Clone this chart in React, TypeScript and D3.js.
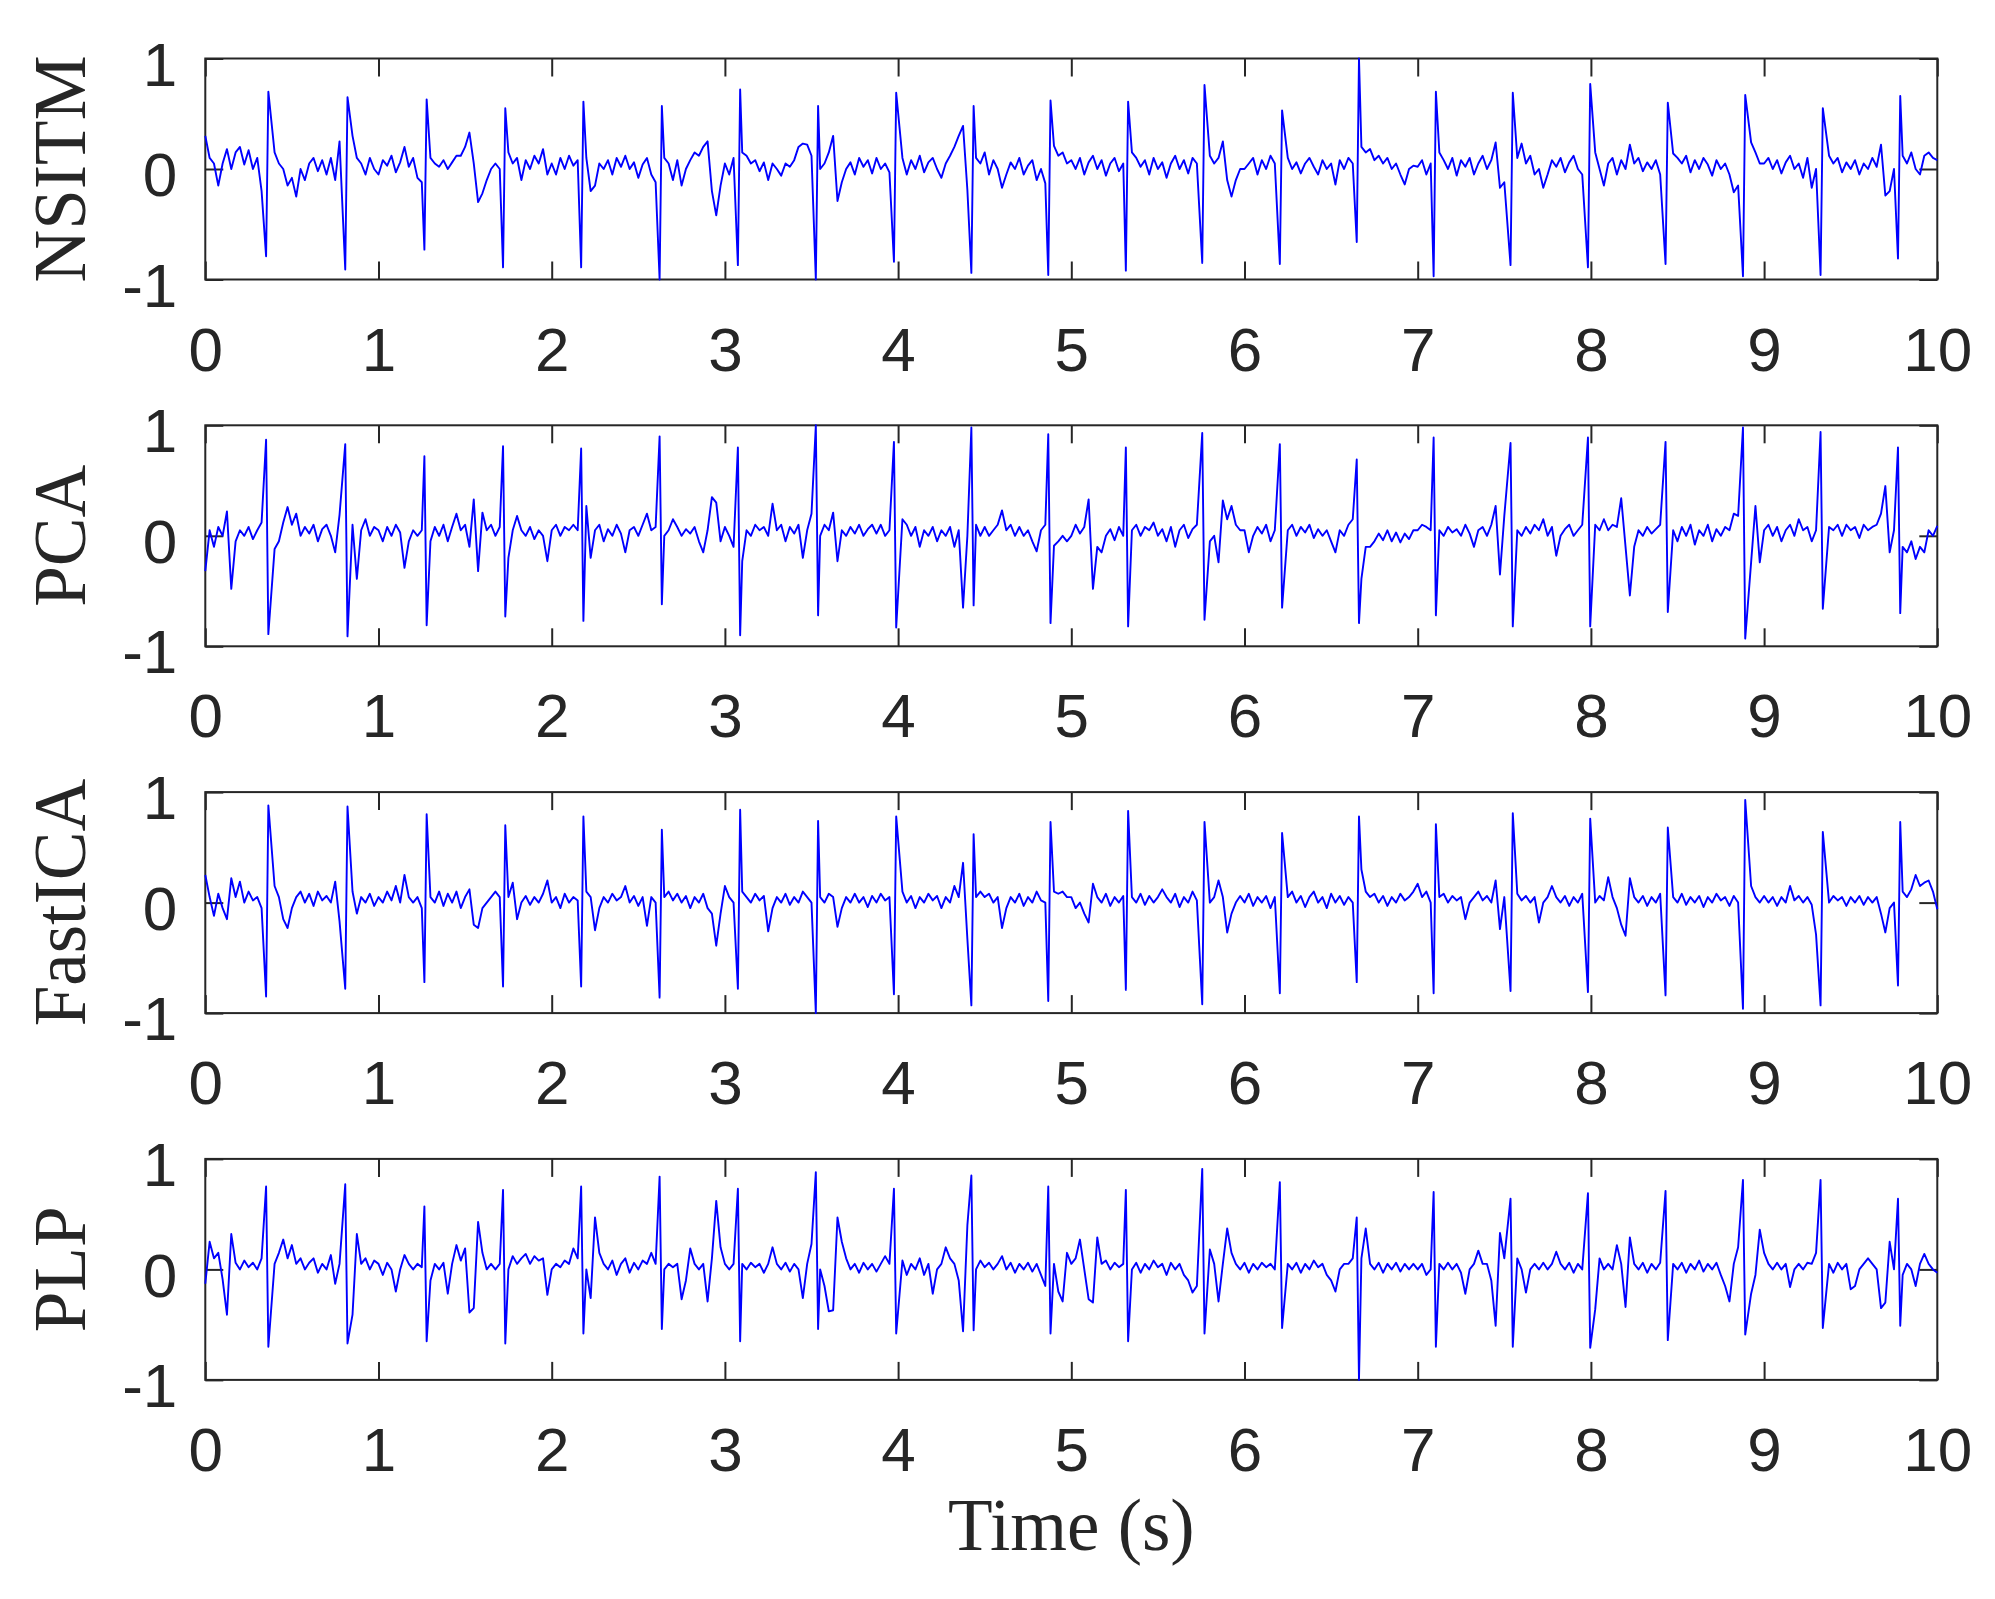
import { useLayoutEffect, useRef } from 'react'
import * as d3 from 'd3'

// spacing of the hand-read baseline samples, seconds
const STEP = 0.025

// R-peak times shared by the four recovered signals (s)
const beatTimes = [
  0.351, 0.808, 1.265, 1.719, 2.17, 2.623, 3.075, 3.525, 3.976, 4.423, 4.867,
  5.315, 5.756, 6.204, 6.648, 7.092, 7.536, 7.983, 8.431, 8.878, 9.326, 9.773
]
const xTickValues = [0, 1, 2, 3, 4, 5, 6, 7, 8, 9, 10]
const yTickValues = [-1, 0, 1]

// NSITM
const nsitmBase = [
  0.30, 0.10, 0.05, -0.15, 0.05, 0.18, 0.00, 0.15, 0.20, 0.04, 0.17, 0.00, 0.10, -0.20, 0.00, 0.20, 0.15, 0.05, 0.00, -0.15,
  -0.08, -0.25, 0.00, -0.10, 0.05, 0.10, -0.02, 0.08, -0.05, 0.10, -0.10, 0.25, 0.00, 0.00, 0.30, 0.10, 0.05, -0.05, 0.10, 0.00,
  -0.05, 0.08, 0.03, 0.12, -0.03, 0.06, 0.20, 0.02, 0.10, -0.08, -0.12, 0.00, 0.10, 0.05, 0.02, 0.08, 0.00, 0.06, 0.12, 0.12,
  0.20, 0.33, 0.05, -0.30, -0.22, -0.10, 0.00, 0.05, 0.00, 0.00, 0.15, 0.05, 0.10, -0.10, 0.08, 0.00, 0.12, 0.05, 0.18, -0.05,
  0.05, -0.05, 0.10, 0.00, 0.12, 0.03, 0.08, 0.00, 0.10, -0.20, -0.15, 0.05, 0.00, 0.08, -0.05, 0.10, 0.02, 0.12, 0.00, 0.06,
  -0.08, 0.04, 0.10, -0.05, -0.12, 0.00, 0.10, 0.05, -0.10, 0.08, -0.15, 0.00, 0.08, 0.15, 0.12, 0.20, 0.25, -0.20, -0.42, -0.15,
  0.05, -0.05, 0.10, 0.00, 0.15, 0.12, 0.05, 0.08, -0.02, 0.06, -0.10, 0.05, 0.00, -0.06, 0.05, 0.02, 0.08, 0.20, 0.23, 0.22,
  0.12, 0.00, 0.00, 0.05, 0.15, 0.30, -0.29, -0.12, 0.00, 0.06, -0.05, 0.10, 0.02, 0.08, -0.04, 0.10, 0.00, 0.05, -0.03, 0.00,
  0.05, 0.10, -0.05, 0.08, 0.00, 0.12, -0.03, 0.06, 0.10, 0.00, -0.08, 0.05, 0.12, 0.20, 0.30, 0.39, -0.19, 0.00, 0.10, 0.05,
  0.15, -0.05, 0.08, 0.00, -0.17, -0.05, 0.06, 0.00, 0.10, -0.05, 0.03, 0.08, -0.10, 0.00, -0.13, 0.00, 0.21, 0.12, 0.15, 0.05,
  0.08, 0.00, 0.10, -0.05, 0.06, 0.12, 0.00, 0.08, -0.06, 0.05, 0.10, -0.02, 0.05, 0.00, 0.15, 0.10, 0.02, 0.08, -0.05, 0.10,
  0.00, 0.06, -0.08, 0.05, 0.12, 0.00, 0.08, -0.04, 0.10, 0.05, 0.00, 0.00, 0.12, 0.05, 0.10, 0.25, -0.10, -0.25, -0.10, 0.00,
  0.00, 0.05, 0.10, -0.05, 0.08, 0.00, 0.12, 0.05, 0.00, 0.00, 0.10, 0.00, 0.06, -0.04, 0.05, 0.10, 0.02, -0.05, 0.08, 0.00,
  0.05, -0.14, 0.08, 0.00, 0.10, 0.05, 0.00, 0.20, 0.15, 0.18, 0.08, 0.12, 0.05, 0.10, 0.00, 0.05, -0.05, -0.14, 0.00, 0.03,
  0.02, 0.08, -0.05, 0.05, 0.00, 0.15, 0.08, 0.00, 0.10, -0.06, 0.08, 0.02, 0.10, -0.05, 0.05, 0.12, 0.00, 0.08, 0.24, -0.17,
  -0.12, 0.00, 0.00, 0.10, 0.23, 0.05, 0.12, -0.05, 0.00, -0.17, -0.05, 0.08, 0.02, 0.10, -0.03, 0.06, 0.12, 0.00, -0.05, 0.00,
  0.00, 0.15, 0.00, -0.15, 0.05, 0.10, -0.05, 0.08, 0.00, 0.22, 0.05, 0.10, -0.02, 0.06, 0.00, 0.08, -0.05, 0.00, 0.00, 0.14,
  0.10, 0.05, 0.12, -0.03, 0.08, 0.00, 0.10, 0.04, -0.06, 0.08, 0.00, 0.05, -0.05, -0.21, -0.15, 0.00, 0.00, 0.24, 0.15, 0.05,
  0.05, 0.10, 0.00, 0.08, -0.04, 0.06, 0.12, 0.00, 0.05, -0.08, 0.10, -0.17, 0.00, 0.00, 0.15, 0.12, 0.05, 0.10, -0.03, 0.06,
  0.00, 0.08, -0.05, 0.05, 0.00, 0.10, 0.02, 0.22, -0.24, -0.20, 0.00, 0.00, 0.12, 0.05, 0.15, 0.00, -0.05, 0.12, 0.15, 0.10,
  0.08
]
const nsitmR = [0.70, 0.65, 0.63, 0.55, 0.61, 0.57, 0.72, 0.57, 0.69, 0.57, 0.62, 0.61, 0.76, 0.53, 1.0, 0.70, 0.69, 0.77, 0.60, 0.67, 0.55, 0.66]
const nsitmS = [-0.79, -0.91, -0.73, -0.89, -0.89, -1.0, -0.87, -1.0, -0.84, -0.94, -0.96, -0.92, -0.85, -0.86, -0.66, -0.97, -0.87, -0.89, -0.86, -0.97, -0.96, -0.81]

// PCA
const pcaBase = [
  -0.32, 0.05, -0.10, 0.08, 0.00, 0.22, -0.48, -0.05, 0.05, 0.00, 0.08, -0.03, 0.05, 0.12, 0.00, 0.00, -0.12, -0.05, 0.12, 0.26,
  0.10, 0.20, 0.00, 0.08, 0.02, 0.10, -0.05, 0.06, 0.10, 0.00, -0.15, 0.19, 0.00, 0.00, 0.10, -0.39, 0.05, 0.15, 0.00, 0.08,
  0.05, -0.05, 0.08, 0.00, 0.10, 0.03, -0.29, -0.05, 0.05, 0.00, 0.05, 0.00, -0.05, 0.08, 0.00, 0.10, -0.05, 0.08, 0.20, 0.05,
  0.10, -0.10, 0.33, -0.32, 0.21, 0.05, 0.10, 0.00, 0.08, 0.00, -0.20, 0.05, 0.18, 0.05, 0.00, 0.08, -0.03, 0.05, 0.00, -0.23,
  0.05, 0.10, 0.00, 0.08, 0.05, 0.10, 0.05, 0.00, 0.27, -0.20, 0.05, 0.10, -0.05, 0.06, 0.00, 0.10, 0.02, -0.15, 0.05, 0.08,
  0.00, 0.10, 0.20, 0.05, 0.08, 0.00, 0.00, 0.05, 0.15, 0.08, 0.00, 0.06, 0.02, 0.08, -0.05, -0.15, 0.05, 0.35, 0.30, -0.05,
  0.08, 0.00, -0.10, 0.00, -0.23, 0.05, 0.00, 0.10, 0.05, 0.08, 0.00, 0.29, 0.05, 0.10, -0.05, 0.08, 0.02, 0.10, -0.20, 0.05,
  0.20, 0.00, 0.00, 0.10, 0.05, 0.21, -0.23, 0.05, 0.00, 0.08, 0.02, 0.10, 0.00, 0.06, 0.10, 0.02, 0.10, 0.00, 0.05, 0.00,
  0.10, 0.15, 0.10, 0.00, 0.08, -0.10, 0.05, 0.00, 0.08, -0.05, 0.05, 0.00, 0.08, -0.10, 0.05, -0.65, 0.00, 0.00, 0.10, 0.00,
  0.08, 0.00, 0.05, 0.10, 0.23, 0.05, 0.10, 0.00, 0.08, 0.00, 0.05, -0.05, -0.14, 0.05, 0.10, 0.00, -0.09, -0.05, 0.00, -0.05,
  0.00, 0.10, 0.02, 0.08, 0.33, -0.48, -0.10, -0.15, 0.00, 0.06, -0.04, 0.08, 0.00, 0.00, 0.05, 0.10, 0.00, 0.08, 0.05, 0.12,
  0.00, 0.06, -0.05, 0.08, -0.10, 0.05, 0.10, -0.02, 0.06, 0.10, 0.05, 0.00, -0.05, 0.00, -0.24, 0.32, 0.15, 0.27, 0.10, 0.05,
  0.05, -0.15, 0.00, 0.08, 0.02, 0.10, -0.05, 0.05, 0.00, 0.00, 0.05, 0.10, 0.00, 0.08, 0.03, 0.10, -0.02, 0.06, 0.00, 0.05,
  -0.05, -0.15, 0.05, 0.00, 0.10, 0.15, 0.00, -0.39, -0.10, -0.10, -0.05, 0.02, -0.04, 0.05, -0.05, 0.03, -0.06, 0.02, -0.03, 0.05,
  0.05, 0.10, 0.08, 0.05, 0.00, 0.05, 0.00, 0.08, 0.03, 0.06, 0.00, 0.10, 0.02, -0.10, 0.05, 0.08, 0.00, 0.10, 0.27, -0.35,
  0.18, 0.15, 0.00, 0.05, 0.00, 0.08, 0.02, 0.10, 0.05, 0.15, 0.00, 0.08, -0.18, 0.00, 0.06, 0.10, 0.00, 0.05, 0.10, 0.00,
  0.00, 0.10, 0.05, 0.15, 0.05, 0.10, 0.08, 0.34, -0.10, -0.54, -0.10, 0.05, 0.00, 0.08, 0.02, 0.06, 0.10, 0.00, 0.00, 0.05,
  -0.05, 0.08, 0.00, 0.10, -0.08, 0.05, 0.00, 0.10, -0.05, 0.06, 0.00, 0.08, 0.05, 0.20, 0.18, 0.00, 0.00, -0.24, 0.27, -0.24,
  0.05, 0.10, 0.00, 0.08, -0.05, 0.05, 0.10, 0.00, 0.15, 0.05, 0.08, -0.05, 0.05, 0.00, 0.00, 0.08, 0.05, 0.10, 0.00, 0.10,
  0.05, 0.08, -0.02, 0.10, 0.05, 0.08, 0.10, 0.20, 0.45, -0.15, 0.05, 0.00, -0.10, -0.15, -0.05, -0.21, -0.10, -0.15, 0.05, 0.00,
  0.09
]
const pcaR = [0.87, 0.83, 0.72, 0.81, 0.79, 0.90, 0.80, 1.0, 0.85, 0.98, 0.92, 0.80, 0.93, 0.83, 0.69, 0.89, 0.84, 0.89, 0.85, 0.98, 0.94, 0.80]
const pcaS = [-0.89, -0.91, -0.81, -0.73, -0.77, -0.62, -0.90, -0.72, -0.83, -0.63, -0.79, -0.82, -0.76, -0.65, -0.79, -0.72, -0.82, -0.82, -0.69, -0.93, -0.66, -0.70]

// FastICA
const icaBase = [
  0.25, 0.05, -0.12, 0.08, -0.05, -0.15, 0.22, 0.05, 0.19, 0.00, 0.10, 0.02, 0.05, -0.05, 0.00, 0.00, 0.15, 0.05, -0.15, -0.23,
  -0.05, 0.05, 0.10, 0.00, 0.08, -0.03, 0.10, 0.02, 0.06, 0.00, 0.19, -0.17, 0.00, 0.00, 0.10, -0.10, 0.05, 0.00, 0.08, -0.03,
  0.05, 0.00, 0.10, 0.02, 0.15, 0.00, 0.25, 0.05, 0.00, 0.05, -0.05, 0.00, 0.05, 0.00, 0.10, -0.03, 0.08, 0.00, 0.10, -0.05,
  0.05, 0.12, -0.20, -0.23, -0.05, 0.00, 0.05, 0.10, 0.05, 0.00, 0.05, 0.18, -0.15, 0.00, 0.06, -0.02, 0.05, 0.00, 0.08, 0.20,
  0.00, 0.05, -0.05, 0.08, 0.00, 0.05, 0.02, 0.00, 0.10, 0.05, -0.25, -0.05, 0.05, 0.00, 0.08, 0.02, 0.05, 0.15, 0.00, 0.06,
  -0.03, 0.05, -0.21, 0.05, 0.00, 0.00, 0.05, 0.10, 0.02, 0.08, 0.00, 0.06, -0.05, 0.05, 0.00, 0.08, -0.05, -0.10, -0.39, -0.10,
  0.15, 0.05, 0.00, 0.00, 0.10, 0.05, 0.00, 0.08, 0.02, 0.06, -0.26, -0.05, 0.05, 0.00, 0.08, -0.02, 0.05, 0.00, 0.10, 0.05,
  0.00, 0.00, 0.05, 0.00, 0.08, 0.05, -0.22, -0.05, 0.05, 0.00, 0.08, 0.00, 0.05, -0.04, 0.06, 0.00, 0.08, 0.02, 0.05, 0.00,
  0.05, 0.10, 0.00, 0.06, -0.05, 0.05, 0.00, 0.08, 0.02, 0.06, -0.05, 0.05, 0.00, 0.15, 0.05, 0.36, -0.33, 0.00, 0.05, 0.10,
  0.05, 0.08, 0.00, 0.05, -0.23, -0.05, 0.05, 0.00, 0.08, -0.03, 0.05, 0.00, 0.10, 0.02, 0.00, 0.00, 0.10, 0.08, 0.10, 0.05,
  0.05, -0.05, 0.00, -0.10, -0.18, 0.17, 0.05, 0.00, 0.08, -0.03, 0.05, 0.00, 0.06, 0.00, 0.05, 0.00, 0.08, -0.02, 0.06, 0.00,
  0.05, 0.12, 0.05, 0.00, 0.08, -0.04, 0.05, 0.00, 0.10, 0.02, 0.05, 0.00, 0.00, 0.05, 0.20, 0.05, -0.27, -0.10, 0.00, 0.06,
  0.00, 0.08, -0.03, 0.05, 0.00, 0.06, -0.05, 0.05, 0.00, 0.00, 0.05, 0.10, 0.00, 0.06, -0.04, 0.05, 0.10, 0.00, 0.05, -0.05,
  0.08, 0.00, 0.06, -0.02, 0.05, 0.00, 0.00, 0.30, 0.10, 0.05, 0.08, 0.00, 0.06, -0.03, 0.05, 0.00, 0.08, 0.02, 0.05, 0.10,
  0.17, 0.05, 0.10, 0.00, 0.00, 0.05, 0.08, 0.00, 0.06, 0.02, 0.05, -0.15, 0.00, 0.05, 0.10, 0.02, 0.06, 0.00, 0.20, -0.24,
  0.05, 0.00, 0.00, 0.08, 0.02, 0.06, 0.00, 0.05, -0.18, 0.00, 0.05, 0.15, 0.05, 0.00, 0.06, -0.03, 0.05, 0.00, 0.08, 0.00,
  0.05, 0.00, 0.06, 0.02, 0.23, 0.05, -0.05, -0.20, -0.30, 0.22, 0.05, 0.00, 0.06, -0.03, 0.05, 0.00, 0.08, 0.00, 0.00, 0.05,
  0.00, 0.08, -0.02, 0.05, 0.00, 0.06, -0.04, 0.05, 0.00, 0.08, 0.02, 0.05, -0.03, 0.06, 0.00, 0.00, 0.00, 0.15, 0.05, 0.00,
  0.06, 0.00, 0.05, -0.03, 0.05, 0.00, 0.15, 0.02, 0.06, 0.00, 0.05, -0.02, -0.29, 0.00, 0.05, 0.00, 0.06, 0.02, 0.05, -0.03,
  0.05, 0.00, 0.06, -0.02, 0.05, 0.00, 0.05, -0.10, -0.27, -0.05, 0.00, 0.00, 0.10, 0.05, 0.12, 0.25, 0.15, 0.18, 0.20, 0.10,
  -0.06
]
const icaR = [0.88, 0.87, 0.80, 0.70, 0.78, 0.66, 0.84, 0.74, 0.78, 0.62, 0.73, 0.83, 0.73, 0.63, 0.78, 0.71, 0.81, 0.76, 0.68, 0.93, 0.64, 0.73]
const icaS = [-0.85, -0.78, -0.72, -0.76, -0.76, -0.86, -0.78, -1.0, -0.83, -0.93, -0.89, -0.79, -0.92, -0.82, -0.72, -0.82, -0.80, -0.81, -0.84, -0.96, -0.93, -0.75]

// PLP
const plpBase = [
  -0.13, 0.25, 0.10, 0.15, -0.09, -0.41, 0.32, 0.06, 0.00, 0.08, 0.02, 0.06, 0.00, 0.10, 0.00, 0.00, 0.05, 0.15, 0.27, 0.10,
  0.22, 0.05, 0.10, 0.00, 0.06, 0.10, -0.03, 0.05, 0.00, 0.13, -0.13, 0.05, 0.00, 0.00, -0.41, 0.32, 0.05, 0.10, 0.00, 0.08,
  0.05, -0.05, 0.06, 0.00, -0.20, 0.00, 0.13, 0.05, 0.00, 0.05, 0.02, 0.00, -0.10, 0.05, 0.00, 0.06, -0.22, 0.05, 0.22, 0.08,
  0.19, -0.39, -0.35, 0.43, 0.15, 0.00, 0.05, 0.00, 0.05, 0.00, 0.00, 0.12, 0.05, 0.10, 0.14, 0.05, 0.12, 0.08, 0.10, -0.23,
  0.00, 0.05, 0.02, 0.08, 0.05, 0.19, 0.10, 0.00, 0.00, -0.26, 0.47, 0.15, 0.05, 0.00, 0.08, -0.05, 0.05, 0.10, -0.03, 0.06,
  0.00, 0.08, 0.05, 0.15, 0.05, 0.00, 0.00, 0.05, 0.02, 0.05, -0.27, -0.10, 0.19, 0.05, 0.00, 0.05, -0.29, 0.10, 0.62, 0.20,
  0.05, 0.00, 0.05, 0.00, 0.05, 0.00, 0.06, 0.02, 0.05, -0.03, 0.05, 0.20, 0.05, 0.00, 0.06, -0.02, 0.05, 0.00, -0.26, 0.05,
  0.23, 0.00, 0.00, -0.15, -0.38, -0.37, 0.47, 0.25, 0.10, 0.00, 0.05, -0.03, 0.06, 0.00, 0.05, -0.02, 0.05, 0.12, 0.05, 0.00,
  0.00, 0.08, -0.05, 0.05, 0.00, 0.10, -0.05, 0.05, -0.22, 0.00, 0.05, 0.20, 0.10, 0.05, -0.10, -0.56, 0.40, 0.00, 0.00, 0.08,
  0.02, 0.06, 0.00, 0.05, 0.12, 0.00, 0.06, -0.03, 0.05, 0.00, 0.06, -0.02, 0.05, -0.05, -0.15, 0.00, 0.05, -0.20, -0.29, 0.15,
  0.05, 0.10, 0.27, 0.00, -0.27, -0.30, 0.29, 0.05, 0.08, 0.00, 0.06, 0.02, 0.05, 0.00, 0.00, 0.06, -0.03, 0.05, 0.00, 0.08,
  0.02, 0.05, -0.05, 0.06, 0.00, 0.05, -0.05, -0.10, -0.21, -0.15, 0.00, 0.00, 0.18, 0.05, -0.29, 0.05, 0.37, 0.15, 0.05, 0.00,
  0.06, -0.03, 0.05, 0.00, 0.06, 0.02, 0.05, 0.00, 0.00, 0.00, 0.05, 0.00, 0.06, -0.03, 0.05, 0.00, 0.08, 0.02, 0.05, -0.05,
  -0.10, -0.20, 0.00, 0.05, 0.05, 0.10, 0.00, 0.10, 0.37, 0.05, 0.00, 0.06, -0.03, 0.05, 0.00, 0.06, -0.02, 0.05, 0.00, 0.05,
  0.00, 0.05, -0.05, 0.00, 0.00, 0.05, 0.00, 0.06, 0.00, 0.05, -0.03, -0.22, 0.00, 0.05, 0.17, 0.05, 0.05, -0.10, -0.51, 0.33,
  0.10, 0.05, 0.00, 0.10, 0.00, -0.21, 0.00, 0.05, 0.00, 0.06, 0.00, 0.05, 0.16, 0.05, 0.00, 0.06, -0.03, 0.05, 0.00, 0.00,
  0.00, -0.36, 0.10, 0.00, 0.05, 0.00, 0.22, 0.05, -0.34, 0.29, 0.05, 0.00, 0.06, -0.03, 0.05, 0.00, 0.06, 0.00, 0.00, 0.05,
  0.00, 0.06, -0.03, 0.05, 0.00, 0.08, -0.02, 0.05, 0.00, 0.06, -0.05, -0.15, -0.29, 0.05, 0.20, 0.00, 0.00, -0.22, -0.05, 0.36,
  0.15, 0.05, 0.00, 0.06, 0.00, 0.05, -0.16, 0.00, 0.05, 0.00, 0.06, 0.05, 0.15, 0.00, 0.00, 0.05, -0.03, 0.06, 0.00, 0.05,
  -0.18, -0.15, 0.00, 0.05, 0.10, 0.05, 0.00, -0.35, -0.30, 0.25, 0.00, 0.00, -0.05, 0.05, 0.00, -0.15, 0.05, 0.14, 0.05, 0.00,
  -0.03
]
const plpR = [0.75, 0.77, 0.57, 0.72, 0.75, 0.84, 0.73, 0.88, 0.73, 0.85, 0.75, 0.72, 0.91, 0.79, 0.47, 0.70, 0.64, 0.69, 0.71, 0.81, 0.81, 0.64]
const plpS = [-0.70, -0.67, -0.65, -0.67, -0.58, -0.54, -0.65, -0.54, -0.58, -0.55, -0.58, -0.65, -0.58, -0.53, -1.0, -0.70, -0.70, -0.71, -0.64, -0.59, -0.53, -0.51]

const panels = [
  { label: 'NSITM', base: nsitmBase, r: nsitmR, s: nsitmS, troughFirst: true },
  { label: 'PCA', base: pcaBase, r: pcaR, s: pcaS, troughFirst: false },
  { label: 'FastICA', base: icaBase, r: icaR, s: icaS, troughFirst: true },
  { label: 'PLP', base: plpBase, r: plpR, s: plpS, troughFirst: false }
]

type Pt = [number, number]

// merge baseline samples with the QRS spikes of each beat
const toPoints = (p: (typeof panels)[number]): Pt[] => {
  const pts: Pt[] = []
  p.base.forEach((v, i) => {
    const t = i * STEP
    if (beatTimes.some((b) => t > b - 0.012 && t < b + 0.025)) return
    pts.push([t, v])
  })
  beatTimes.forEach((b, k) => {
    const first = p.troughFirst ? p.s[k] : p.r[k]
    const second = p.troughFirst ? p.r[k] : p.s[k]
    pts.push([b, first], [b + 0.013, second])
  })
  return pts.sort((a, c) => a[0] - c[0])
}

const useD3 = (renderChartFn: (svg: any) => void, dependencies: any[]) => {
  const ref = useRef<SVGSVGElement>(null)
  useLayoutEffect(() => {
    const svg = d3.select(ref.current)
    svg.selectAll('*').remove()
    renderChartFn(svg)
  }, dependencies)
  return ref
}

const W = 1995
const H = 1599
const LEFT = 205.3
const RIGHT = 1937.3
const TOP0 = 58.5
const ROW = 366.8
const PH = 221
const INK = '#262626'
const SANS = '"Liberation Sans", Arial, Helvetica, sans-serif'
const SERIF = '"Liberation Serif", "Times New Roman", Times, serif'

// MATLAB prints a plain hyphen for negative tick labels
const plainLabel = (d: any) => String(d)

const App = () => {
  const ref = useD3((svg) => {
    const x = d3.scaleLinear().domain([0, 10]).range([LEFT, RIGHT])

    panels.forEach((p, i) => {
      const top = TOP0 + i * ROW
      const y = d3.scaleLinear().domain([-1, 1]).range([top + PH, top])
      const g = svg.append('g')

      g.append('g')
        .attr('transform', `translate(0,${top + PH})`)
        .call(d3.axisBottom(x).tickValues(xTickValues).tickSizeInner(-18).tickSizeOuter(0).tickPadding(47).tickFormat(plainLabel))
      g.append('g')
        .attr('transform', `translate(0,${top})`)
        .call(d3.axisTop(x).tickValues(xTickValues).tickSizeInner(-18).tickSizeOuter(0).tickFormat(() => ''))
      g.append('g')
        .attr('class', 'yleft')
        .attr('transform', `translate(${LEFT},0)`)
        .call(d3.axisLeft(y).tickValues(yTickValues).tickSizeInner(-18).tickSizeOuter(0).tickPadding(28).tickFormat(plainLabel))
      g.append('g')
        .attr('transform', `translate(${RIGHT},0)`)
        .call(d3.axisRight(y).tickValues(yTickValues).tickSizeInner(-18).tickSizeOuter(0).tickFormat(() => ''))

      g.selectAll('.domain').remove()
      g.selectAll('.tick line').attr('stroke', INK).attr('stroke-width', 2)
      g.selectAll('g').attr('font-size', 62).attr('font-family', SANS)
      g.selectAll('.tick text').attr('fill', INK)
      // the left tick labels sit a little lower than d3's default
      g.selectAll('.yleft .tick text').attr('dy', '0.43em')

      g.append('rect')
        .attr('x', LEFT)
        .attr('y', top)
        .attr('width', RIGHT - LEFT)
        .attr('height', PH)
        .attr('fill', 'none')
        .attr('stroke', INK)
        .attr('stroke-width', 2)

      g.append('path')
        .datum(toPoints(p))
        .attr('fill', 'none')
        .attr('stroke', '#0000ff')
        .attr('stroke-width', 1.9)
        .attr('stroke-linejoin', 'round')
        .attr('d', d3.line<Pt>().x((d) => x(d[0])).y((d) => y(d[1])))

      svg.append('text')
        .attr('transform', `translate(85,${top + PH / 2}) rotate(-90)`)
        .attr('text-anchor', 'middle')
        .attr('font-family', SERIF)
        .attr('font-size', 73)
        .attr('fill', INK)
        .text(p.label)
    })

    svg.append('text')
      .attr('x', (LEFT + RIGHT) / 2)
      .attr('y', 1550)
      .attr('text-anchor', 'middle')
      .attr('font-family', SERIF)
      .attr('font-size', 73)
      .attr('fill', INK)
      .text('Time (s)')
  }, [])

  return (
    <svg
      ref={ref}
      width={W}
      height={H}
      style={{ position: 'absolute', left: 0, top: 0, background: '#fff' }}
    />
  )
}

export default App
